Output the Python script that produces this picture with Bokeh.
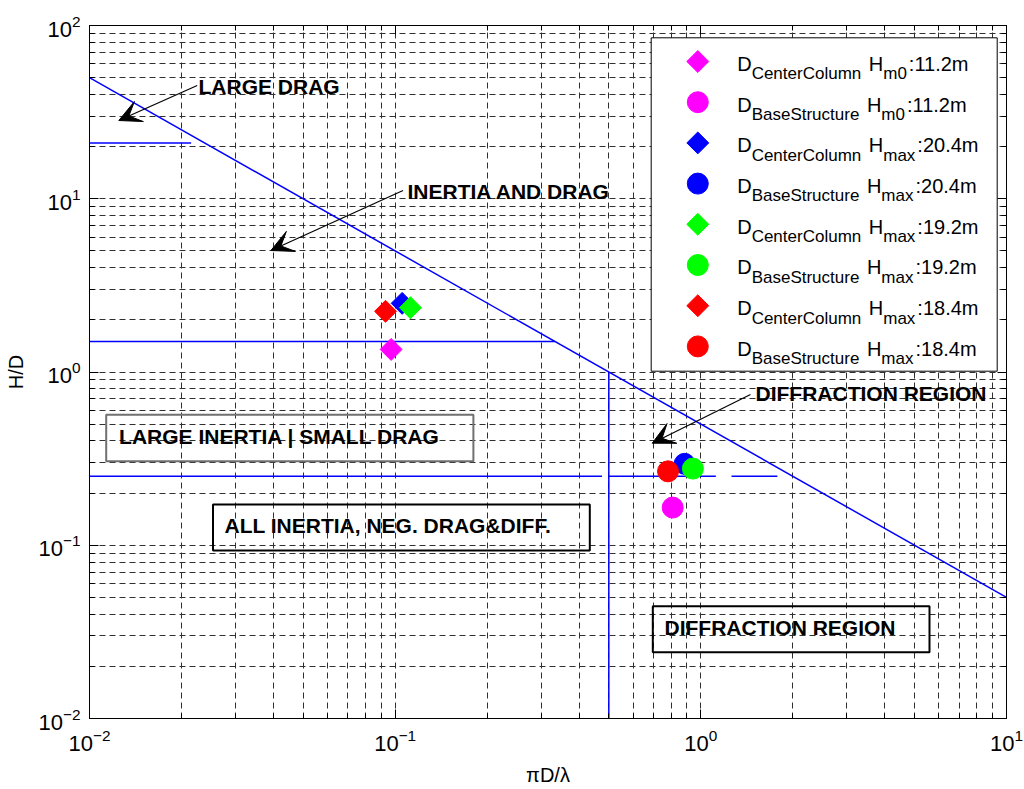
from bokeh.plotting import figure
from bokeh.models import (LogAxis, FixedTicker, Label, BoxAnnotation, Arrow,
                          VeeHead)
from bokeh.embed import file_html
from bokeh.resources import INLINE

# ---------------------------------------------------------------- data
series_colors = ["#FF00FF", "#0000FF", "#00FF00", "#FF0000"]
wave_height_kind = ["m0", "max", "max", "max"]
wave_height_value = ["11.2m", "20.4m", "19.2m", "18.4m"]

# pi*D/lambda and H/D for the centre column diameter
center_column_x = [0.097, 0.1054, 0.1122, 0.093]
center_column_y = [1.35, 2.49, 2.35, 2.24]
# pi*D/lambda and H/D for the base structure diameter
base_structure_x = [0.809, 0.885, 0.942, 0.781]
base_structure_y = [0.165, 0.295, 0.277, 0.267]

# wave-force regime boundaries
breaking_x = [0.01, 10.0]
breaking_y = [50.0, 0.05]
large_drag_x = [0.01, 0.0215]
large_drag_y = [21.0, 21.0]
inertia_drag_x = [0.01, 0.333]
inertia_drag_y = [1.5, 1.5]
small_drag_xs = [[0.01, 0.475], [0.5, 1.12], [1.26, 1.78]]
small_drag_ys = [[0.25, 0.25], [0.25, 0.25], [0.25, 0.25]]
diffraction_x = [0.5, 0.5]
diffraction_y = [0.01, 1.0]

x_major_ticks = [0.01, 0.1, 1.0, 10.0]
y_major_ticks = [0.01, 0.1, 1.0, 10.0, 100.0]

# ---------------------------------------------------------------- layout
FONT = "Liberation Sans"
FRAME_L, FRAME_T, FRAME_W, FRAME_H = 89, 25, 917, 693
X_LOG0, X_DEC = -2.0, 3.0
Y_LOG0, Y_DEC = -2.0, 4.0


def scr(px, py):
    """Canvas pixel -> frame screen units (origin bottom-left of frame)."""
    return px - FRAME_L, FRAME_T + FRAME_H - py


def to_data(px, py):
    sx, sy = scr(px, py)
    return (10 ** (X_LOG0 + X_DEC * sx / FRAME_W),
            10 ** (Y_LOG0 + Y_DEC * sy / FRAME_H))


def minor_ticks(majors):
    out = []
    for m in majors[:-1]:
        out += [m * k for k in range(2, 10)]
    return out


p = figure(x_axis_type="log", y_axis_type="log",
           x_range=(0.01, 10), y_range=(0.01, 100),
           frame_width=FRAME_W, frame_height=FRAME_H,
           min_border_left=FRAME_L, min_border_top=FRAME_T,
           min_border_right=1024 - FRAME_L - FRAME_W,
           min_border_bottom=789 - FRAME_T - FRAME_H,
           output_backend="svg", toolbar_location=None,
           background_fill_color="white", border_fill_color="white")
p.outline_line_color = "black"
p.outline_line_width = 1

x_ticker = FixedTicker(ticks=x_major_ticks, minor_ticks=minor_ticks(x_major_ticks))
y_ticker = FixedTicker(ticks=y_major_ticks, minor_ticks=minor_ticks(y_major_ticks))


def style_axis(ax, show_labels):
    ax.major_tick_in = 9
    ax.major_tick_out = 0
    ax.minor_tick_in = 5
    ax.minor_tick_out = 0
    ax.axis_line_color = "black"
    ax.major_tick_line_color = "black"
    ax.minor_tick_line_color = "black"
    if show_labels:
        ax.major_label_text_font = FONT
        ax.major_label_text_font_size = "22px"
        ax.major_label_text_color = "black"
        ax.axis_label_text_font = FONT
        ax.axis_label_text_font_size = "20px"
        ax.axis_label_text_font_style = "normal"
        ax.axis_label_text_color = "black"
    else:
        ax.major_label_text_font_size = "1px"
        ax.major_label_text_alpha = 0.0
        ax.major_label_standoff = 0


p.xaxis.ticker = x_ticker
p.yaxis.ticker = y_ticker
p.xaxis.axis_label = "πD/λ"
p.yaxis.axis_label = "H/D"
p.xaxis.major_label_standoff = 10
p.yaxis.major_label_standoff = 9
p.xaxis.axis_label_standoff = 10
p.yaxis.axis_label_standoff = 8
style_axis(p.xaxis[0], True)
style_axis(p.yaxis[0], True)

top_axis = LogAxis(ticker=x_ticker)
right_axis = LogAxis(ticker=y_ticker)
style_axis(top_axis, False)
style_axis(right_axis, False)
p.add_layout(top_axis, "above")
p.add_layout(right_axis, "right")

for grid, tk in ((p.xgrid[0], x_ticker), (p.ygrid[0], y_ticker)):
    grid.ticker = tk
    grid.grid_line_color = "#303030"
    grid.grid_line_dash = "6 4"
    grid.grid_line_width = 1
    grid.minor_grid_line_color = "#303030"
    grid.minor_grid_line_dash = "6 4"
    grid.minor_grid_line_width = 1

# regime boundaries
BLUE = "#0000FF"
p.line(breaking_x, breaking_y, line_color=BLUE, line_width=1.5)
p.line(large_drag_x, large_drag_y, line_color=BLUE, line_width=1.5)
p.line(inertia_drag_x, inertia_drag_y, line_color=BLUE, line_width=1.5)
p.multi_line(small_drag_xs, small_drag_ys, line_color=BLUE, line_width=1.5)
p.line(diffraction_x, diffraction_y, line_color=BLUE, line_width=1.5)

# measured points
DIAMOND = dict(marker="square", angle=0.785398, size=15.5)
CIRCLE = dict(marker="circle", size=21)
for i, c in enumerate(series_colors):
    p.scatter([center_column_x[i]], [center_column_y[i]], fill_color=c,
              line_color=c, **DIAMOND)
for i, c in enumerate(series_colors):
    p.scatter([base_structure_x[i]], [base_structure_y[i]], fill_color=c,
              line_color=c, **CIRCLE)


def screen_box(left, top, right, bottom, **style):
    l, t = scr(left, top)
    r, b = scr(right, bottom)
    p.add_layout(BoxAnnotation(left=l, right=r, top=t, bottom=b,
                               left_units="screen", right_units="screen",
                               top_units="screen", bottom_units="screen",
                               line_alpha=1.0, **style))


# ---------------------------------------------------------------- legend
screen_box(650.7, 37.3, 996.7, 370.7, fill_color="white", fill_alpha=1.0,
           line_color="black", line_width=1, level="underlay")

ARIAL_W = {" ": 278, "D": 722, "C": 722, "e": 556, "n": 556, "t": 278,
           "r": 333, "o": 556, "l": 222, "u": 556, "m": 833, "B": 667,
           "a": 556, "s": 500, "S": 667, "c": 500, "H": 722, "x": 500,
           ":": 278, ".": 278}


def text_width(s, size):
    return sum(ARIAL_W.get(ch, 556) for ch in s) / 1000.0 * size


MAIN, SUB = 20, 17
entries = []
for i in range(len(series_colors)):
    entries.append((DIAMOND, series_colors[i], "CenterColumn", i))
    entries.append((CIRCLE, series_colors[i], "BaseStructure", i))

for k, (mk, color, part, i) in enumerate(entries):
    cy = 61.0 + 40.7 * k
    kx, ky = to_data(697.3, cy)
    p.scatter([kx], [ky], fill_color=color, line_color=color, **mk)
    # (text, font size, baseline drop, extra gap before)
    pieces = [("D", MAIN, 0, 0), (part, SUB, 10, 0),
              ("H", MAIN, 0, text_width(" ", MAIN) + 2),
              (wave_height_kind[i], SUB, 10, 0),
              (":" + wave_height_value[i], MAIN, 0, 2)]
    x = 736.7
    for txt, size, drop, gap in pieces:
        x += gap
        sx, sy = scr(x, cy + 2.3 + drop)
        p.add_layout(Label(x=sx, y=sy, x_units="screen", y_units="screen",
                           text=txt, text_font=FONT,
                           text_font_size=f"{size}px", text_color="black",
                           text_align="left", text_baseline="alphabetic"))
        x += text_width(txt, size)


# ---------------------------------------------------------------- regime notes
def note(px, py, text):
    sx, sy = scr(px, py)
    p.add_layout(Label(x=sx, y=sy, x_units="screen", y_units="screen",
                       text=text, text_font=FONT, text_font_size="21px",
                       text_font_style="bold", text_color="black",
                       text_align="left", text_baseline="middle"))


def pointer(x0, y0, x1, y1):
    sx0, sy0 = scr(x0, y0)
    sx1, sy1 = scr(x1, y1)
    p.add_layout(Arrow(x_start=sx0, y_start=sy0, x_end=sx1, y_end=sy1,
                       start_units="screen", end_units="screen",
                       line_color="black", line_width=1.2,
                       end=VeeHead(size=22, fill_color="black",
                                   line_color="black", line_width=1)))


note(198, 86, "LARGE DRAG")
pointer(196.7, 85, 118.3, 120)
note(407, 190.7, "INERTIA AND DRAG")
pointer(402.5, 190, 270.4, 250)
note(755, 392.7, "DIFFRACTION REGION")
pointer(750, 394, 651.7, 442.7)

screen_box(105.7, 414.3, 472.9, 460.7, fill_alpha=0.0,
           line_color="#707070", line_width=2)
note(118.6, 436, "LARGE INERTIA | SMALL DRAG")
screen_box(212.5, 504, 589.3, 550, fill_alpha=0.0,
           line_color="black", line_width=2)
note(224, 525, "ALL INERTIA, NEG. DRAG&DIFF.")
screen_box(652.3, 605.7, 929, 651.7, fill_alpha=0.0,
           line_color="black", line_width=2)
note(664, 627, "DIFFRACTION REGION")

open("out.html", "w").write(file_html(p, INLINE))
